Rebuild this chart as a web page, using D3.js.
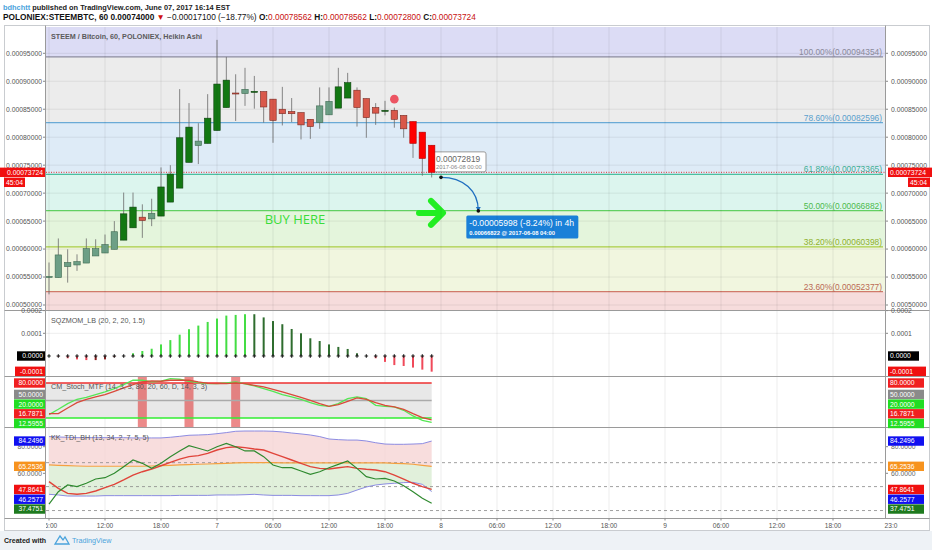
<!DOCTYPE html>
<html>
<head>
<meta charset="utf-8">
<script src="https://cdn.jsdelivr.net/npm/d3@7"></script>
<style>
  body { margin: 0; background: #fff; font-family: "Liberation Sans", Arial, sans-serif; }
  svg { display: block; }
</style>
</head>
<body>
<div id="chart"></div>
<script>
// ---- data (prices in units of 1e-5 BTC) ----
const firstBar = Date.UTC(2017, 5, 6, 6); // hourly bars from 2017-06-06 06:00
const haOpen  = [55.05, 54.9, 56.86, 57.16, 57.5, 58.77, 59.3, 59.96, 61.6, 63.8, 65.7, 65.4, 65.9, 68.4, 70.9, 75.5, 78.5, 78.9, 81.2, 85.3, 87.9, 87.8, 88.1, 88.15, 86.8, 85.0, 84.6, 84.4, 83.2, 82.6, 84.0, 85.2, 87.0, 88.4, 86.9, 85.3, 84.7, 84.8, 83.9, 82.8, 80.9, 78.562];
const haHigh  = [57.6, 61.9, 59.96, 59.06, 61.9, 61.75, 62.6, 65.0, 70.1, 70.1, 68.0, 69.0, 74.6, 75.0, 88.6, 86.1, 82.5, 87.7, 97.4, 94.354, 91.25, 92.4, 90.95, 88.15, 86.8, 89.0, 87.0, 84.4, 83.2, 88.9, 88.9, 92.4, 91.5, 88.9, 86.9, 86.1, 86.5, 85.3, 83.9, 82.8, 80.9, 78.562];
const haLow   = [51.9, 54.9, 54.0, 56.1, 57.5, 58.77, 59.3, 59.96, 61.6, 63.8, 62.0, 64.1, 65.9, 68.4, 70.9, 75.5, 75.2, 78.9, 81.2, 85.3, 82.9, 85.6, 85.1, 82.6, 79.0, 82.1, 82.7, 79.6, 79.7, 81.5, 84.0, 85.2, 87.0, 81.9, 79.9, 82.2, 83.9, 81.7, 79.9, 76.3, 73.1, 72.8];
const haClose = [55.1, 58.95, 57.6, 57.75, 60.08, 60.08, 60.8, 63.1, 66.3, 67.5, 65.1, 66.4, 71.1, 73.4, 79.9, 81.8, 79.3, 83.4, 89.5, 90.2, 87.8, 88.56, 88.2, 85.4, 83.0, 84.2, 84.2, 82.2, 81.9, 85.6, 86.4, 89.0, 89.75, 85.3, 83.5, 84.3, 84.8, 83.2, 81.5, 78.9, 76.2, 73.724];
// bar colouring used on the chart: dg dark green, lg pale green, dr red, br bright red
const barTone = ["lg","lg","lg","lg","lg","lg","lg","lg","dg","dg","dr","lg","dg","dg","dg","dg","lg","dg","dg","dg","dr","lg","dg","dr","dr","dr","dr","dr","dr","lg","lg","dg","dg","dr","dr","dr","dg","dr","dr","br","br","br"];

const fibRatios = ["100.00%", "78.60%", "61.80%", "50.00%", "38.20%", "23.60%"];
const fibPrices = [94.354, 82.596, 73.365, 66.882, 60.398, 52.377];

// SQZMOM_LB histogram (units 1e-5)
const sqzValues = [0.2, -0.3, -1.0, -1.5, -1.8, -1.8, -1.5, -0.5, 0.0, 1.2, 2.2, 3.2, 5.1, 7.0, 9.4, 11.8, 13.4, 15.0, 16.5, 17.8, 18.1, 18.4, 18.4, 17.0, 15.4, 14.0, 11.9, 10.0, 7.8, 6.6, 5.1, 4.0, 3.1, 1.2, 0.0, -1.0, -2.6, -4.0, -4.4, -5.1, -6.0, -6.9];

// CM_Stoch_MTF
const stochK = [25.8, 34.9, 44.6, 52.1, 55.5, 60.1, 64.7, 70.4, 77.2, 84.7, 84.7, 81.8, 83.0, 87.5, 86.4, 83.0, 80.7, 79.0, 79.0, 80.1, 81.8, 78.4, 75.0, 70.4, 65.8, 60.1, 56.1, 52.1, 46.4, 41.8, 40.1, 44.6, 53.2, 56.1, 53.2, 41.8, 40.1, 39.0, 33.2, 23.5, 16.1, 12.5955];
const stochD = [27.5, 27.5, 37.2, 46.4, 52.1, 56.1, 60.1, 65.8, 71.5, 77.2, 81.8, 83.5, 83.0, 84.7, 84.7, 84.7, 81.8, 79.5, 79.0, 79.0, 80.1, 79.0, 76.1, 73.2, 69.2, 64.7, 60.1, 55.5, 50.4, 44.6, 40.1, 42.9, 48.6, 54.4, 52.1, 46.4, 41.8, 39.0, 34.9, 27.5, 20.6, 16.7871];
const stochCrossBars = [10, 15, 20];

// KK_TDI_BH
const tdiUpper = [87.6, 87.3, 87.1, 86.8, 86.8, 86.8, 86.8, 86.8, 86.8, 86.6, 86.6, 86.6, 86.6, 87.1, 87.8, 88.6, 88.8, 89.1, 89.8, 90.6, 91.6, 91.8, 91.8, 91.8, 91.6, 91.1, 90.3, 89.6, 88.8, 87.6, 85.8, 85.3, 85.0, 85.0, 84.3, 83.0, 82.0, 81.8, 81.8, 82.0, 82.3, 84.2496];
const tdiLower = [44.2, 43.7, 42.9, 42.9, 42.9, 42.9, 43.2, 43.2, 43.2, 43.2, 43.2, 43.2, 43.2, 43.2, 43.4, 43.4, 43.4, 43.4, 43.7, 43.7, 43.7, 43.9, 44.2, 43.7, 43.4, 43.4, 43.4, 43.2, 43.2, 43.2, 43.2, 43.7, 44.9, 47.4, 49.7, 51.2, 52.0, 52.5, 53.0, 53.2, 51.7, 46.2577];
const tdiMiddle = [66.3, 66.0, 65.8, 65.5, 65.3, 65.3, 65.3, 65.3, 65.3, 65.3, 65.3, 65.5, 65.8, 66.0, 66.3, 66.5, 66.8, 67.0, 67.3, 67.5, 67.8, 68.0, 68.0, 68.0, 68.0, 67.8, 67.8, 67.8, 67.8, 67.8, 67.8, 67.8, 67.8, 67.8, 67.8, 67.8, 67.8, 67.5, 67.3, 66.8, 66.0, 65.2536];
const tdiRsi = [36.9, 46.2, 51.2, 50.0, 52.5, 55.7, 56.7, 60.0, 65.0, 70.0, 67.5, 63.7, 67.5, 72.5, 76.8, 80.8, 78.8, 76.8, 80.0, 82.5, 80.0, 76.8, 76.8, 72.5, 66.2, 64.2, 64.2, 61.7, 59.2, 61.2, 64.2, 66.7, 69.3, 63.7, 57.5, 55.7, 56.2, 54.2, 50.7, 46.2, 41.2, 37.4751];
const tdiSignal = [53.7, 48.7, 44.9, 44.2, 44.9, 46.7, 49.2, 51.7, 55.0, 58.7, 61.2, 63.2, 65.7, 68.2, 70.7, 72.5, 73.3, 75.0, 77.5, 79.3, 80.0, 79.3, 78.3, 77.5, 75.0, 72.5, 70.0, 67.5, 65.0, 63.7, 63.2, 64.2, 65.0, 63.7, 63.0, 62.5, 61.2, 58.7, 55.7, 52.5, 50.0, 47.8641];
const tdiLevels = [68, 50, 32];

// projection drawn on the chart
const projFrom = { t: Date.UTC(2017, 5, 8, 0), p: 72.819 };
const projTo   = { t: Date.UTC(2017, 5, 8, 4), p: 66.822 };
const projText = ["-0.00005998 (-8.24%) in 4h", "0.00066822  @ 2017-06-08  04:00"];
const signalDot = { t: Date.UTC(2017, 5, 7, 19), p: 86.8 };
const lastPrice = 73.724;

// ---- layout ----
const W = 932, H = 550;
const plotL = 46, plotR = 885;
const panes = {
  main:  { top: 27,  bottom: 310 },
  sqz:   { top: 311, bottom: 376 },
  stoch: { top: 377, bottom: 427 },
  tdi:   { top: 428, bottom: 518 }
};

const svg = d3.select("#chart").append("svg").attr("width", W).attr("height", H);
svg.append("rect").attr("width", W).attr("height", H).attr("fill", "#fff");
svg.append("rect").attr("y", 531).attr("width", W).attr("height", H - 531).attr("fill", "#eef2f6");
svg.append("rect").attr("x", 4.5).attr("y", 25.5).attr("width", 925).attr("height", 505)
  .attr("fill", "#fff").attr("stroke", "#c9ccd0");

const x = d3.scaleUtc()
  .domain([new Date(firstBar), new Date(Date.UTC(2017, 5, 9, 6))])
  .range([49, 721]);
const barX = i => x(d3.utcHour.offset(new Date(firstBar), i));
const idx = d3.range(haOpen.length);

const yMain  = d3.scaleLinear().domain([50, 95]).range([305, 53.3]);
const ySqz   = d3.scaleLinear().domain([0, 10]).range([356, 333.3]);
const yStoch = d3.scaleLinear().domain([20, 80]).range([418, 383]);
const yTdi   = d3.scaleLinear().domain([60, 80]).range([473.3, 446.7]);

const defs = svg.append("defs");
Object.entries(panes).forEach(([k, p]) => {
  defs.append("clipPath").attr("id", "clip-" + k)
    .append("rect").attr("x", plotL).attr("y", p.top).attr("width", plotR - plotL).attr("height", p.bottom - p.top);
});

const timeTicks = d3.utcHour.every(6).range(new Date(firstBar), new Date(Date.UTC(2017, 5, 9, 19)));

// ---- main pane ----
const main = svg.append("g").attr("clip-path", "url(#clip-main)");
const zoneColors = ["#dcdcf5", "#ececec", "#deebf7", "#dcf5ee", "#e4f5dc", "#f1f6df", "#f6dcdc"];
const lineColors = ["#8c8ca0", "#6aaad6", "#4cbfa0", "#62d062", "#a8cc44", "#d07a6a"];
const labelColors = ["#8a8a9a", "#5b9fcc", "#3fae96", "#4cba4c", "#8fb02c", "#bb6a55"];
const zoneEdges = [panes.main.top, ...fibPrices.map(yMain), panes.main.bottom];
zoneColors.forEach((c, i) => {
  main.append("rect").attr("x", plotL).attr("width", plotR - plotL)
    .attr("y", zoneEdges[i]).attr("height", zoneEdges[i + 1] - zoneEdges[i]).attr("fill", c);
});

// grid
main.selectAll(".hg").data(yMain.ticks(10)).join("line")
  .attr("x1", plotL).attr("x2", plotR).attr("y1", d => yMain(d)).attr("y2", d => yMain(d))
  .attr("stroke", "#000").attr("stroke-opacity", 0.07);
Object.values(panes).forEach(p => {
  svg.append("g").selectAll("line").data(timeTicks).join("line")
    .attr("x1", d => x(d)).attr("x2", d => x(d)).attr("y1", p.top).attr("y2", p.bottom)
    .attr("stroke", "#000").attr("stroke-opacity", 0.07);
});

// fib lines + labels
fibPrices.forEach((p, i) => {
  main.append("line").attr("x1", plotL).attr("x2", plotR - 2).attr("y1", yMain(p)).attr("y2", yMain(p))
    .attr("stroke", lineColors[i]).attr("stroke-width", 1.2);
  main.append("text").attr("x", plotR - 3).attr("y", yMain(p) - 2).attr("text-anchor", "end")
    .attr("font-size", 8.4).attr("fill", labelColors[i])
    .text(`${fibRatios[i]}(${(p * 1e-5).toFixed(8)})`);
});

// last price dotted line
main.append("line").attr("x1", plotL).attr("x2", plotR).attr("y1", yMain(lastPrice)).attr("y2", yMain(lastPrice))
  .attr("stroke", "#e03030").attr("stroke-dasharray", "1,1.5");

// tooltip of projection start (sits behind candles)
const sx = x(projFrom.t), sy = yMain(projFrom.p), ex = x(projTo.t), ey = yMain(projTo.p);
const tip = main.append("g");
tip.append("rect").attr("x", sx - 8).attr("y", sy - 25.5).attr("width", 53).attr("height", 20).attr("rx", 2)
  .attr("fill", "#fff").attr("stroke", "#999");
tip.append("text").attr("x", sx - 5).attr("y", sy - 15.5).attr("font-size", 8.4).attr("fill", "#666")
  .text((projFrom.p * 1e-5).toFixed(8));
tip.append("text").attr("x", sx - 5).attr("y", sy - 8.5).attr("font-size", 5.8).attr("fill", "#888")
  .text(d3.utcFormat("%Y-%m-%d %H:%M")(new Date(projFrom.t)));

// candles
const toneFill = { dg: "#127812", lg: "#6d9f86", dr: "#d9584a", br: "#ff0000" };
const toneEdge = { dg: "#0b3f0b", lg: "#3f6b52", dr: "#7a2a22", br: "#b00000" };
const candles = main.append("g");
candles.selectAll(".wick").data(idx).join("line")
  .attr("x1", i => barX(i)).attr("x2", i => barX(i))
  .attr("y1", i => yMain(haHigh[i])).attr("y2", i => yMain(haLow[i]))
  .attr("stroke", "#6a6a6a").attr("stroke-width", 0.8);
candles.selectAll(".body").data(idx).join("rect")
  .attr("x", i => barX(i) - 3.2).attr("width", 6.4)
  .attr("y", i => yMain(Math.max(haOpen[i], haClose[i])))
  .attr("height", i => Math.max(1, Math.abs(yMain(haOpen[i]) - yMain(haClose[i]))))
  .attr("fill", i => toneFill[barTone[i]]).attr("stroke", i => toneEdge[barTone[i]]).attr("stroke-width", 0.6);

main.append("circle").attr("cx", x(signalDot.t)).attr("cy", yMain(signalDot.p)).attr("r", 4.3).attr("fill", "#ec5563");

// BUY HERE + arrow
main.append("text").attr("x", 295).attr("y", 223.5).attr("text-anchor", "middle")
  .attr("font-family", "'Open Sans', sans-serif").attr("font-size", 13).attr("fill", "#3add3a").text("BUY HERE");
main.append("path").attr("d", `M${sx - 22},${ey + 2}L${sx + 1},${ey + 2}M${sx - 10},${ey - 10}L${sx + 2},${ey + 2}L${sx - 10},${ey + 14}`)
  .attr("fill", "none").attr("stroke", "#22ee22").attr("stroke-width", 6)
  .attr("stroke-linecap", "round").attr("stroke-linejoin", "round");

// projection arc
main.append("path")
  .attr("d", `M${sx},${sy}C${sx + (ex - sx) * 0.6},${sy} ${ex},${sy + (ey - sy) * 0.4} ${ex},${ey}`)
  .attr("fill", "none").attr("stroke", "#1f6fc0").attr("stroke-width", 1.3);
main.append("path").attr("d", `M${ex - 2.5},${ey - 4}L${ex + 2.5},${ey - 4}L${ex},${ey}Z`).attr("fill", "#1f6fc0");
[[sx, sy], [ex, ey]].forEach(([a, b]) => main.append("circle").attr("cx", a).attr("cy", b).attr("r", 1.8).attr("fill", "#111"));
const pb = main.append("g");
pb.append("rect").attr("x", ex - 12).attr("y", ey + 4.5).attr("width", 112).attr("height", 23).attr("rx", 1.5).attr("fill", "#1a80d8");
pb.append("text").attr("x", ex - 9).attr("y", ey + 15).attr("font-size", 8.6).attr("fill", "#fff").text(projText[0]);
pb.append("text").attr("x", ex - 9).attr("y", ey + 24).attr("font-size", 5.8).attr("font-weight", "bold").attr("fill", "#fff").text(projText[1]);

svg.append("text").attr("x", 51).attr("y", 39).attr("font-size", 7.2).attr("font-weight", "bold").attr("fill", "#5a5a5a")
  .text("STEEM / Bitcoin, 60, POLONIEX, Heikin Ashi");

// ---- SQZMOM pane ----
const sqz = svg.append("g").attr("clip-path", "url(#clip-sqz)");
sqz.selectAll("line.h").data([10, 20]).join("line")
  .attr("x1", plotL).attr("x2", plotR).attr("y1", d => ySqz(d)).attr("y2", d => ySqz(d))
  .attr("stroke", "#000").attr("stroke-opacity", 0.07);
const sqzColor = (v, i) => {
  const prev = i > 0 ? sqzValues[i - 1] : 0;
  if (v >= 0) return v > prev ? "#44dd44" : "#2f6d2f";
  return v < prev ? "#f04a5a" : "#8b2020";
};
sqz.selectAll("rect").data(sqzValues).join("rect")
  .attr("x", (v, i) => barX(i) - 1).attr("width", 2)
  .attr("y", v => Math.min(ySqz(0), ySqz(v))).attr("height", v => Math.abs(ySqz(v) - ySqz(0)))
  .attr("fill", sqzColor);
sqz.selectAll("path").data(sqzValues).join("path")
  .attr("transform", (v, i) => `translate(${barX(i)},${ySqz(0)})`)
  .attr("d", d3.symbol(d3.symbolCross, 7)).attr("fill", "#222");
svg.append("text").attr("x", 51).attr("y", 323).attr("font-size", 7.2).attr("fill", "#555").text("SQZMOM_LB (20, 2, 20, 1.5)");

// ---- Stoch pane ----
const st = svg.append("g").attr("clip-path", "url(#clip-stoch)");
st.append("rect").attr("x", plotL).attr("width", barX(idx.length - 1) - plotL)
  .attr("y", yStoch(80)).attr("height", yStoch(20) - yStoch(80)).attr("fill", "#e8e8e8");
st.selectAll(".cross").data(stochCrossBars).join("rect")
  .attr("x", i => barX(i) - 4.5).attr("width", 9).attr("y", panes.stoch.top).attr("height", panes.stoch.bottom - panes.stoch.top)
  .attr("fill", "#e03c3c").attr("fill-opacity", 0.6);
[[80, "#ee3030"], [50, "#aaaaaa"], [20, "#33ee33"]].forEach(([v, c]) => {
  st.append("line").attr("x1", plotL).attr("x2", barX(idx.length - 1)).attr("y1", yStoch(v)).attr("y2", yStoch(v))
    .attr("stroke", c).attr("stroke-width", 1.3);
});
const stLine = arr => d3.line().x((v, i) => barX(i)).y(v => yStoch(v))(arr);
st.append("path").attr("d", stLine(stochK)).attr("fill", "none").attr("stroke", "#55e655").attr("stroke-width", 1.3);
st.append("path").attr("d", stLine(stochD)).attr("fill", "none").attr("stroke", "#d94a3a").attr("stroke-width", 1.3);
svg.append("text").attr("x", 51).attr("y", 389).attr("font-size", 7.2).attr("fill", "#555")
  .text("CM_Stoch_MTF (14, 3, 3, 80, 20, 60, D, 14, 3, 3)");

// ---- TDI pane ----
const td = svg.append("g").attr("clip-path", "url(#clip-tdi)");
const tdArea = (top, bot) => d3.area().x((v, i) => barX(i)).y0((v, i) => yTdi(bot[i])).y1(v => yTdi(v))(top);
td.append("path").attr("d", tdArea(tdiUpper, tdiMiddle)).attr("fill", "#f6d4d4").attr("fill-opacity", 0.8);
td.append("path").attr("d", tdArea(tdiMiddle, tdiLower)).attr("fill", "#d9ecd2").attr("fill-opacity", 0.8);
td.selectAll(".lvl").data(tdiLevels).join("line")
  .attr("x1", plotL).attr("x2", plotR).attr("y1", d => yTdi(d)).attr("y2", d => yTdi(d))
  .attr("stroke", "#888").attr("stroke-dasharray", "3,3").attr("stroke-width", 0.8);
const tdLine = arr => d3.line().x((v, i) => barX(i)).y(v => yTdi(v))(arr);
[[tdiUpper, "#8080e0", 0.9], [tdiLower, "#8080e0", 0.9], [tdiMiddle, "#f5a040", 1.2],
 [tdiSignal, "#e0443a", 1.4], [tdiRsi, "#2f8a2f", 1.2]].forEach(([a, c, w]) => {
  td.append("path").attr("d", tdLine(a)).attr("fill", "none").attr("stroke", c).attr("stroke-width", w);
});
svg.append("text").attr("x", 51).attr("y", 440).attr("font-size", 7.2).attr("fill", "#555")
  .text("KK_TDI_BH (13, 34, 2, 7, 5, 5)");

// ---- pane borders ----
const borders = svg.append("g").attr("stroke", "#9a9a9a").attr("stroke-width", 1);
[310.5, 376.5, 427.5, 518.5].forEach(y => borders.append("line").attr("x1", 4.5).attr("x2", 929.5).attr("y1", y).attr("y2", y));
[plotL - 0.5, plotR + 0.5].forEach(xx => borders.append("line").attr("x1", xx).attr("x2", xx).attr("y1", 25.5).attr("y2", 518.5));

// ---- axes ----
const axisFont = 6.8;
function tickText(y, text, color) {
  [[plotL - 4, "end"], [plotR + 6, "start"]].forEach(([xx, anchor]) => {
    svg.append("text").attr("x", xx).attr("y", y + 2.4).attr("text-anchor", anchor)
      .attr("font-size", axisFont).attr("fill", color || "#555").text(text);
    svg.append("line").attr("x1", anchor === "end" ? plotL - 3 : plotR + 1).attr("x2", anchor === "end" ? plotL - 1 : plotR + 3)
      .attr("y1", y).attr("y2", y).attr("stroke", "#888");
  });
}
yMain.ticks(10).forEach(d => tickText(yMain(d), (d * 1e-5).toFixed(8)));
[10, 20].forEach(d => tickText(ySqz(d), (d * 1e-5).toFixed(4)));
[60, 80].forEach(d => tickText(yTdi(d), d.toFixed(4), "#666"));

function tag(y, text, fill, leftW, rightW) {
  if (leftW) {
    svg.append("rect").attr("x", plotL - 1 - leftW).attr("y", y - 4.7).attr("width", leftW).attr("height", 9.4).attr("fill", fill);
    svg.append("text").attr("x", plotL - 3).attr("y", y + 2.4).attr("text-anchor", "end")
      .attr("font-size", axisFont).attr("fill", "#fff").text(text);
  }
  if (rightW) {
    svg.append("rect").attr("x", plotR + 3).attr("y", y - 4.7).attr("width", rightW).attr("height", 9.4).attr("fill", fill);
    svg.append("text").attr("x", plotR + 5).attr("y", y + 2.4)
      .attr("font-size", axisFont).attr("fill", "#fff").text(text);
  }
}
// push overlapping tags down, then back up if they run past the pane bottom
function stack(items, hi, gap) {
  items.sort((a, b) => a.y - b.y);
  for (let i = 1; i < items.length; i++) items[i].y = Math.max(items[i].y, items[i - 1].y + gap);
  const n = items.length - 1;
  if (items[n].y > hi) {
    items[n].y = hi;
    for (let i = n - 1; i >= 0; i--) items[i].y = Math.min(items[i].y, items[i + 1].y - gap);
  }
  return items;
}

// main price tags
tag(yMain(lastPrice), (lastPrice * 1e-5).toFixed(8), "#f01010", 46, 44);
svg.append("rect").attr("x", 4).attr("y", yMain(lastPrice) + 5.3).attr("width", 21).attr("height", 9.4).attr("fill", "#f01010");
svg.append("text").attr("x", 6).attr("y", yMain(lastPrice) + 12.4).attr("font-size", axisFont).attr("fill", "#fff").text("45:04");
svg.append("rect").attr("x", 908).attr("y", yMain(lastPrice) + 5.3).attr("width", 22).attr("height", 9.4).attr("fill", "#f01010");
svg.append("text").attr("x", 910).attr("y", yMain(lastPrice) + 12.4).attr("font-size", axisFont).attr("fill", "#fff").text("45:04");

// sqz tags
const sqzLast = sqzValues[sqzValues.length - 1];
tag(ySqz(0), "0.0000", "#000", 28, 31);
tag(Math.min(ySqz(sqzLast), panes.sqz.bottom - 4.7), (sqzLast * 1e-5).toFixed(4), "#f01010", 30, 38);

// stoch tags
stack([
  { y: yStoch(80), t: "80.0000", c: "#f02020" },
  { y: yStoch(50), t: "50.0000", c: "#8a8a8a" },
  { y: yStoch(20), t: "20.0000", c: "#22dd22" },
  { y: yStoch(stochD[stochD.length - 1]), t: stochD[stochD.length - 1].toFixed(4), c: "#f02020" },
  { y: yStoch(stochK[stochK.length - 1]), t: stochK[stochK.length - 1].toFixed(4), c: "#22dd22" }
], panes.stoch.bottom - 3.5, 9.7).forEach(it => tag(it.y, it.t, it.c, 31, 36));

// tdi tags
const lastOf = a => a[a.length - 1];
stack([
  { y: yTdi(lastOf(tdiUpper)), t: lastOf(tdiUpper).toFixed(4), c: "#1010f0" },
  { y: yTdi(lastOf(tdiMiddle)), t: lastOf(tdiMiddle).toFixed(4), c: "#f7931e" },
  { y: yTdi(lastOf(tdiSignal)), t: lastOf(tdiSignal).toFixed(4), c: "#f01010" },
  { y: yTdi(lastOf(tdiLower)), t: lastOf(tdiLower).toFixed(4), c: "#1010f0" },
  { y: yTdi(lastOf(tdiRsi)), t: lastOf(tdiRsi).toFixed(4), c: "#1e7a1e" }
], panes.tdi.bottom - 5, 9.8).forEach(it => tag(it.y, it.t, it.c, 31, 36));

// time axis
const fmtTime = d => d.getUTCHours() === 0 ? String(d.getUTCDate()) : d3.utcFormat("%H:%M")(d);
defs.append("clipPath").attr("id", "clip-time").append("rect").attr("x", plotL).attr("y", 518).attr("width", 860).attr("height", 13);
const ta = svg.append("g").attr("clip-path", "url(#clip-time)");
ta.selectAll("text").data(timeTicks).join("text")
  .attr("x", d => x(d)).attr("y", 527.5).attr("text-anchor", "middle")
  .attr("font-size", 6.6).attr("fill", "#555").text(fmtTime);
ta.selectAll("line").data(timeTicks).join("line")
  .attr("x1", d => x(d)).attr("x2", d => x(d)).attr("y1", 518.5).attr("y2", 520.5).attr("stroke", "#888");
ta.append("text").attr("x", 891).attr("y", 527.5).attr("text-anchor", "middle").attr("font-size", 6.6).attr("fill", "#555").text("23:0");

// ---- header ----
const h1 = svg.append("text").attr("x", 3).attr("y", 9.5).attr("font-size", 7.4).attr("font-weight", "bold");
h1.append("tspan").attr("fill", "#4aa3dc").text("bdhchtt");
h1.append("tspan").attr("fill", "#222").text(" published on TradingView.com, June 07, 2017 16:14 EST");
const h2 = svg.append("text").attr("x", 3).attr("y", 19.5).attr("font-size", 8.3).attr("font-weight", "bold").attr("fill", "#111");
h2.append("tspan").text("POLONIEX:STEEMBTC, 60  0.00074000 ");
h2.append("tspan").attr("fill", "#d01010").text("▼");
h2.append("tspan").attr("font-weight", "normal").text(" −0.00017100 (−18.77%) ");
[["O:", "0.00078562"], [" H:", "0.00078562"], [" L:", "0.00072800"], [" C:", "0.00073724"]].forEach(([k, v]) => {
  h2.append("tspan").text(k);
  h2.append("tspan").attr("fill", "#c81010").attr("font-weight", "normal").text(v);
});

// ---- footer ----
svg.append("text").attr("x", 4).attr("y", 543).attr("font-size", 7).attr("font-weight", "bold").attr("fill", "#222").text("Created with");
svg.append("path").attr("d", "M55,544 L60,536 L63,540 L65,537 L69,544 Z").attr("fill", "none").attr("stroke", "#4aa3dc").attr("stroke-width", 1.3);
svg.append("text").attr("x", 72).attr("y", 543).attr("font-size", 7.2).attr("fill", "#4aa3dc").text("TradingView");
</script>
</body>
</html>
